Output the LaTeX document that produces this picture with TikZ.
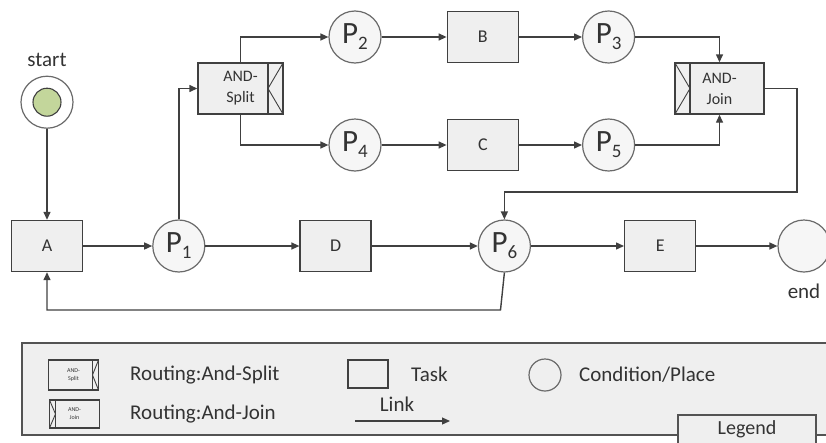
\documentclass[tikz,border=0pt]{standalone}
\usepackage{fontspec}
\setmainfont{Carlito}
\usetikzlibrary{positioning}
\usetikzlibrary{arrows.meta}

\definecolor{edgegray}{HTML}{404040}
\definecolor{ringgray}{HTML}{6A6A6A}
\definecolor{boxfill}{HTML}{EFEFEF}
\definecolor{placefill}{HTML}{F6F6F6}
\definecolor{startgreen}{HTML}{C3D69B}
\definecolor{txtgray}{HTML}{333333}

\newcommand{\placelbl}[1]{{\fontsize{31}{31}\selectfont P}\raisebox{-6pt}{\fontsize{19}{19}\selectfont #1}}

\tikzset{
  task/.style={draw=edgegray, fill=boxfill, line width=1.4pt, minimum width=71pt, minimum height=51pt,
    inner sep=0pt, text=txtgray, font=\fontsize{18}{20}\selectfont},
  place/.style={circle, draw=ringgray, fill=placefill, line width=1.2pt, minimum size=52pt,
    inner sep=0pt, text=txtgray},
  andsplit/.style={task, minimum width=85pt, align=center, font=\fontsize{16}{21}\selectfont,
    path picture={
      \draw[edgegray, line width=1.4pt] ([xshift=-#1]path picture bounding box.north east)
        -- ([xshift=-#1]path picture bounding box.south east);
      \draw[edgegray, line width=0.9pt] (path picture bounding box.north east)
        -- ([xshift=-#1]path picture bounding box.east) -- (path picture bounding box.south east);
    }},
  andsplit/.default=15pt,
  andjoin/.style={task, minimum width=89pt, align=center, font=\fontsize{16}{21}\selectfont,
    path picture={
      \draw[edgegray, line width=1.4pt] ([xshift=#1]path picture bounding box.north west)
        -- ([xshift=#1]path picture bounding box.south west);
      \draw[edgegray, line width=0.9pt] (path picture bounding box.north west)
        -- ([xshift=#1]path picture bounding box.west) -- (path picture bounding box.south west);
    }},
  andjoin/.default=15pt,
  link/.style={draw=edgegray, line width=1.4pt, -{Triangle[length=8pt,width=7pt]}},
  lbl/.style={inner sep=0pt, text=txtgray, font=\fontsize{21}{24}\selectfont},
  legendbox/.style={draw=edgegray!90, fill=boxfill, line width=1.5pt}
}

\begin{document}
\begin{tikzpicture}[x=1pt, y=-1pt]
        \useasboundingbox (0,0) rectangle (826,442);
        % Define nodes
        \node[task] (A) at (47,246) {A};
        \node[place, right=69pt of A] (P1) {\placelbl{1}};
        \node[task, right=94pt of P1] (D) {D};
        \node[place, right=106pt of D] (P6) {\placelbl{6}};
        \node[task, right=93pt of P6] (E) {E};
        \node[place, right=81pt of E] (stop) {};
        \node[lbl, below=11pt of stop] (stoptxt) {end};
        \node[place, fill=white, above=91pt of A] (start) {};
        \node[circle, draw=edgegray, fill=startgreen, line width=1.1pt, minimum size=28pt] (startin) at (start) {};
        \node[lbl, above=9pt of start] (starttxt) {start};
        \node[andsplit] (split) at (240.5,88.5) {AND-\\Split};
        \node[place] (P2) at (355,37) {\placelbl{2}};
        \node[task, right=65pt of P2] (B) {B};
        \node[place, right=63pt of B] (P3) {\placelbl{3}};
        \node[place] (P4) at (355,145) {\placelbl{4}};
        \node[task, right=65pt of P4] (C) {C};
        \node[place, right=63pt of C] (P5) {\placelbl{5}};
        \node[andjoin] (join) at (719.5,88.5) {AND-\\Join};
        \coordinate (turn) at (797,192);
        \coordinate (back) at (500.5,310);
        % Connect nodes
        \draw[link] (start) -- (A);
        \draw[link] (A) -- (P1);
        \draw[link] (P1) -- (D);
        \draw[link] (D) -- (P6);
        \draw[link] (P6) -- (E);
        \draw[link] (E) -- (stop);
        \draw[link] (P1) |- (split.west);
        \draw[link] (split.north) |- (P2);
        \draw[link] (split.south) |- (P4);
        \draw[link] (P2) -- (B);
        \draw[link] (B) -- (P3);
        \draw[link] (P4) -- (C);
        \draw[link] (C) -- (P5);
        \draw[link] (P3) -| (join.north);
        \draw[link] (P5) -| (join.south);
        \draw[link] (join.east) -| (turn) -| (P6.north);
        \draw[link] (P6.south) -- (back) -| (A.south);
        % Legend
        \draw[legendbox] (22,343) rectangle (870,435);
        \node[andsplit=6pt, minimum width=50pt, minimum height=30pt, line width=1.1pt,
          font=\fontsize{6}{8}\selectfont] (lgsplit) at (73.5,375) {AND-\\Split};
        \node[lbl, anchor=west] (lgsplittxt) at (130,375) {Routing:And-Split};
        \node[andjoin=6pt, minimum width=50pt, minimum height=28pt, line width=1.1pt,
          font=\fontsize{6}{8}\selectfont] (lgjoin) at (74.5,414) {AND-\\Join};
        \node[lbl, anchor=west] (lgjointxt) at (130,414) {Routing:And-Join};
        \node[task, minimum width=40pt, minimum height=28pt, line width=1.2pt] (lgtask) at (368,374) {};
        \node[lbl, anchor=west] (lgtasktxt) at (411,374) {Task};
        \node[place, minimum size=32pt, fill=none] (lgplace) at (545,375) {};
        \node[lbl, anchor=west] (lgplacetxt) at (579,375) {Condition/Place};
        \coordinate (lkA) at (355,421);
        \coordinate (lkB) at (450,421);
        \draw[link, line width=1.2pt] (lkA) -- (lkB);
        \node[lbl] (lktxt) at (397,404) {Link};
        \node[legendbox, anchor=north, minimum width=138pt, minimum height=30pt, inner sep=0pt,
          text=txtgray, font=\fontsize{20}{22}\selectfont] (legtab) at (747,414) {Legend};
    \end{tikzpicture}
\end{document}
